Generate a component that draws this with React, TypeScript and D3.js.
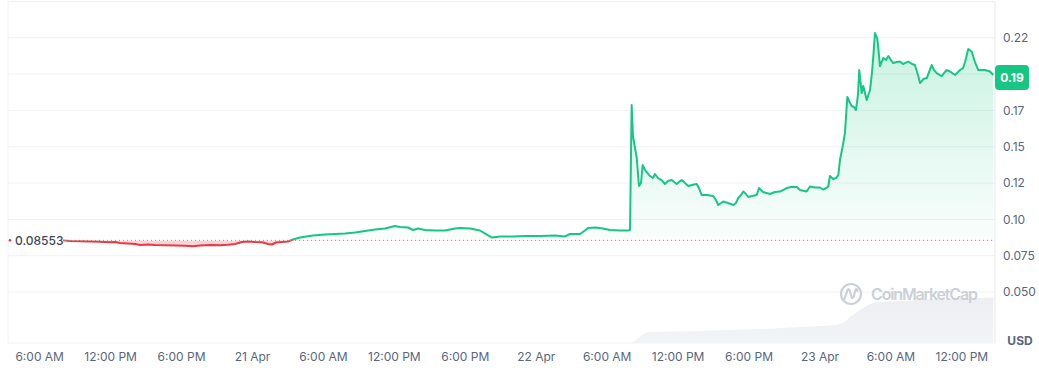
import React from "react";
import * as d3 from "d3";

const W = 1039;
const H = 376;

// hours after 20 Apr 00:00, price in USD
const pricePoints: [number, number][] = [
  [7.97, 0.08553], [8.56, 0.08509], [9.41, 0.08489], [10.26, 0.08475], [11.1, 0.08454],
  [11.95, 0.0842], [12.37, 0.08441], [12.79, 0.08372], [13.47, 0.08337], [14.06, 0.08303],
  [14.49, 0.08234], [15.16, 0.08268], [15.75, 0.08234], [16.6, 0.08213], [17.45, 0.082],
  [18.29, 0.08179], [18.97, 0.08145], [19.56, 0.082], [20.41, 0.08234], [21.25, 0.08213],
  [21.93, 0.08248], [22.52, 0.08303], [23.11, 0.08441], [23.62, 0.08475], [24.21, 0.08441],
  [24.8, 0.0842], [25.31, 0.08303], [25.65, 0.08268], [25.99, 0.08406], [26.5, 0.08441],
  [27.0, 0.08475], [27.43, 0.08613], [28.02, 0.0875], [29.12, 0.08888], [30.13, 0.08957],
  [30.98, 0.08991], [31.82, 0.09025], [32.67, 0.09094], [33.52, 0.09197], [34.36, 0.09301],
  [35.21, 0.09369], [36.05, 0.09541], [36.48, 0.09473], [37.15, 0.09438], [37.58, 0.09266],
  [38.0, 0.09369], [38.59, 0.09266], [39.44, 0.09232], [40.28, 0.09232], [41.13, 0.09369],
  [41.55, 0.09404], [42.4, 0.09369], [43.24, 0.09232], [43.75, 0.08991], [44.26, 0.0875],
  [44.93, 0.08819], [46.03, 0.08819], [47.05, 0.08853], [48.32, 0.08853], [49.59, 0.08888],
  [50.43, 0.08819], [50.85, 0.08991], [51.7, 0.08991], [52.12, 0.09232], [52.38, 0.09404],
  [52.97, 0.09438], [53.65, 0.09369], [54.24, 0.09266], [55.09, 0.09232], [55.76, 0.09232],
  [55.93, 0.09266], [56.07, 0.17867], [56.18, 0.15734], [56.5, 0.14221], [56.69, 0.12294],
  [56.86, 0.125], [57.0, 0.13739], [57.2, 0.13395], [57.34, 0.13257], [57.62, 0.12982],
  [57.87, 0.12844], [58.04, 0.1312], [58.3, 0.12844], [58.61, 0.12707], [58.89, 0.12431],
  [59.14, 0.12638], [59.46, 0.12707], [59.88, 0.12431], [60.3, 0.12707], [60.58, 0.125],
  [60.86, 0.12294], [61.17, 0.12363], [61.57, 0.12431], [61.76, 0.12156], [61.99, 0.11675],
  [62.44, 0.11675], [62.97, 0.11606], [63.2, 0.11331], [63.4, 0.10986], [63.82, 0.11227],
  [64.22, 0.11124], [64.67, 0.10986], [64.89, 0.11124], [65.09, 0.11468], [65.32, 0.11675],
  [65.51, 0.11915], [65.74, 0.11743], [65.93, 0.11537], [66.25, 0.11606], [66.65, 0.11675],
  [66.84, 0.12156], [67.18, 0.11881], [67.77, 0.11743], [68.19, 0.11881], [68.62, 0.11915],
  [69.18, 0.12156], [69.55, 0.12225], [70.03, 0.12225], [70.31, 0.12019], [70.87, 0.11915],
  [71.15, 0.12259], [71.57, 0.12191], [72.0, 0.12191], [72.28, 0.12053], [72.7, 0.12259],
  [72.84, 0.12982], [73.12, 0.12776], [73.35, 0.12844], [73.55, 0.13051], [73.69, 0.14083],
  [73.94, 0.15115], [74.11, 0.15941], [74.31, 0.18418], [74.54, 0.18005], [74.68, 0.17799],
  [74.87, 0.1773], [75.04, 0.17523], [75.21, 0.18556], [75.32, 0.20276], [75.53, 0.18693],
  [75.66, 0.19175], [75.95, 0.18212], [76.06, 0.18487], [76.23, 0.189], [76.4, 0.20138],
  [76.51, 0.21239], [76.65, 0.22822], [76.84, 0.22478], [76.99, 0.21308], [77.07, 0.20551],
  [77.35, 0.21102], [77.58, 0.20964], [77.78, 0.21239], [78.0, 0.20964], [78.2, 0.20757],
  [78.51, 0.20826], [78.76, 0.20861], [79.02, 0.20689], [79.19, 0.20757], [79.47, 0.20861],
  [79.78, 0.20689], [80.03, 0.2062], [80.29, 0.19932], [80.46, 0.19381], [80.74, 0.19657],
  [81.03, 0.19725], [81.22, 0.20138], [81.45, 0.2062], [81.64, 0.20276], [81.87, 0.20069],
  [82.29, 0.19863], [82.49, 0.20069], [82.72, 0.20276], [83.0, 0.20173], [83.42, 0.19932],
  [83.85, 0.20276], [84.1, 0.20413], [84.27, 0.20826], [84.54, 0.21721], [84.83, 0.21549],
  [85.11, 0.20826], [85.39, 0.20276], [85.7, 0.20276], [85.96, 0.20276], [86.38, 0.20173],
  [86.66, 0.19932],
];

// hours after 20 Apr 00:00, volume (arbitrary units)
const volumePoints: [number, number][] = [
  [55.93, 0], [56.18, 1], [57.2, 10], [57.62, 11], [61.85, 12], [66.92, 14], [72.0, 17],
  [73.43, 18], [74.11, 21], [74.54, 26], [75.38, 33], [76.06, 38], [76.65, 40.5],
  [77.67, 41.5], [80.46, 43], [83.25, 44], [86.66, 45.5],
];

const baselinePrice = 0.08553;
const baselineLabel = "0.08553";

// gridline values; the 0.20 label is hidden behind the last-price badge, 0.25 is the top edge
const yTicks = [0.05, 0.075, 0.1, 0.125, 0.15, 0.175, 0.2, 0.225, 0.25];
const yTickLabels = ["0.050", "0.075", "0.10", "0.12", "0.15", "0.17", "", "0.22", ""];

const xTickHours = [6, 12, 18, 24, 30, 36, 42, 48, 54, 60, 66, 72, 78, 84];
const xTickLabels = [
  "6:00 AM", "12:00 PM", "6:00 PM", "21 Apr", "6:00 AM", "12:00 PM", "6:00 PM",
  "22 Apr", "6:00 AM", "12:00 PM", "6:00 PM", "23 Apr", "6:00 AM", "12:00 PM",
];

const START = new Date(2024, 3, 20, 0, 0, 0).getTime();
const toDate = (h: number) => new Date(START + h * 3600 * 1000);

const PLOT_L = 8;
const PLOT_R = 995;
const PLOT_T = 1;
const PLOT_B = 343;

const GREEN = "#16c784";
const RED = "#ea3943";
const TEXT = "#58667e";
const GRID = "#eff2f5";
const FONT = "Inter, 'Noto Sans', sans-serif";

export default function App() {
  const x = d3
    .scaleTime()
    .domain([new Date(2024, 3, 21), new Date(2024, 3, 23)])
    .range([252.5, 820]);
  const y = d3.scaleLinear().domain([0.05, 0.25]).range([292, 1.4]);
  const yVol = d3.scaleLinear().domain([0, 60]).range([PLOT_B, PLOT_B - 60]);

  const yBase = y(baselinePrice);

  const line = d3
    .line<[number, number]>()
    .x((d) => x(toDate(d[0])))
    .y((d) => y(d[1]));
  const area = d3
    .area<[number, number]>()
    .x((d) => x(toDate(d[0])))
    .y0(yBase)
    .y1((d) => y(d[1]));
  const volArea = d3
    .area<[number, number]>()
    .x((d) => x(toDate(d[0])))
    .y0(PLOT_B)
    .y1((d) => yVol(d[1]));

  const first = pricePoints[0];
  const last = pricePoints[pricePoints.length - 1];
  const xStart = x(toDate(first[0]));
  const yLast = y(last[1]);
  const lastLabel = (Math.floor(last[1] * 100) / 100).toFixed(2);

  return (
    <svg
      width={W}
      height={H}
      style={{ position: "absolute", left: 0, top: 0, display: "block", background: "#fff" }}
      fontFamily={FONT}
    >
      <defs>
        <clipPath id="above">
          <rect x={PLOT_L} y={PLOT_T} width={PLOT_R - PLOT_L} height={yBase - PLOT_T} />
        </clipPath>
        <clipPath id="below">
          <rect x={PLOT_L} y={yBase} width={PLOT_R - PLOT_L} height={PLOT_B - yBase} />
        </clipPath>
        <linearGradient id="gFill" gradientUnits="userSpaceOnUse" x1="0" y1={30} x2="0" y2={yBase}>
          <stop offset="0" stopColor={GREEN} stopOpacity={0.24} />
          <stop offset="1" stopColor={GREEN} stopOpacity={0.02} />
        </linearGradient>
        <linearGradient id="vFill" gradientUnits="userSpaceOnUse" x1="0" y1={295} x2="0" y2={PLOT_B}>
          <stop offset="0" stopColor="#eceef2" />
          <stop offset="1" stopColor="#f2f4f6" />
        </linearGradient>
      </defs>

      {/* grid */}
      {yTicks.map((t, i) => (
        <line key={"g" + i} x1={PLOT_L} x2={PLOT_R} y1={y(t)} y2={y(t)} stroke={GRID} strokeWidth={1} />
      ))}
      <line x1={PLOT_L} x2={PLOT_R} y1={PLOT_B} y2={PLOT_B} stroke={GRID} strokeWidth={1} />
      <line x1={PLOT_L} x2={PLOT_L} y1={PLOT_T} y2={PLOT_B} stroke={GRID} strokeWidth={1} />
      <line x1={PLOT_R} x2={PLOT_R} y1={PLOT_T} y2={PLOT_B} stroke="#e6e9ee" strokeWidth={1} />

      {/* volume */}
      <path d={volArea(volumePoints) || ""} fill="url(#vFill)" />

      {/* watermark */}
      <g opacity={0.9}>
        <circle cx={851} cy={294} r={10} fill="none" stroke="#c6cbd3" strokeWidth={2.2} />
        <path
          d="M844.5,299 L847.5,290 Q848.5,288 849.5,290 L851.5,297 Q852.5,299 853.5,297 L855.5,290 Q856.5,288 857.5,291"
          fill="none"
          stroke="#c6cbd3"
          strokeWidth={2.2}
          strokeLinecap="round"
          strokeLinejoin="round"
        />
        <text x={871} y={300} fontSize={16} fontWeight={600} fill="#c6cbd3" textLength={107}>
          CoinMarketCap
        </text>
      </g>

      {/* price areas */}
      <path d={area(pricePoints) || ""} fill="url(#gFill)" clipPath="url(#above)" />
      <path d={area(pricePoints) || ""} fill={RED} fillOpacity={0.22} clipPath="url(#below)" />

      {/* baseline */}
      <line
        x1={xStart}
        x2={PLOT_R}
        y1={yBase}
        y2={yBase}
        stroke="#8c96a8"
        strokeWidth={1}
        strokeDasharray="1 3"
      />

      {/* price line */}
      <path d={line(pricePoints) || ""} fill="none" stroke={GREEN} strokeWidth={2} clipPath="url(#above)" strokeLinejoin="round" />
      <path d={line(pricePoints) || ""} fill="none" stroke={RED} strokeWidth={2} clipPath="url(#below)" strokeLinejoin="round" />

      {/* baseline label */}
      <circle cx={10} cy={yBase} r={1.3} fill={RED} />
      <text x={15} y={yBase} dy="0.35em" fontSize={12} fontWeight={500} fill="#3d4759">
        {baselineLabel}
      </text>

      {/* y axis labels */}
      {yTicks.map((t, i) =>
        yTickLabels[i] ? (
          <text key={"y" + i} x={1003} y={y(t)} dy="0.35em" fontSize={12} fill={TEXT}>
            {yTickLabels[i]}
          </text>
        ) : null
      )}

      {/* last price badge */}
      <rect x={995} y={yLast - 10} width={34} height={25} rx={4} fill={GREEN} />
      <text x={1012} y={yLast + 2.5} dy="0.35em" textAnchor="middle" fontSize={12} fontWeight={700} fill="#fff">
        {lastLabel}
      </text>

      {/* x axis labels */}
      {xTickHours.map((h, i) => (
        <text key={"x" + i} x={x(toDate(h))} y={357} dy="0.35em" textAnchor="middle" fontSize={12} fill={TEXT}>
          {xTickLabels[i]}
        </text>
      ))}

      <text x={1020} y={341} dy="0.35em" textAnchor="middle" fontSize={12} fontWeight={700} fill={TEXT}>
        USD
      </text>
    </svg>
  );
}
